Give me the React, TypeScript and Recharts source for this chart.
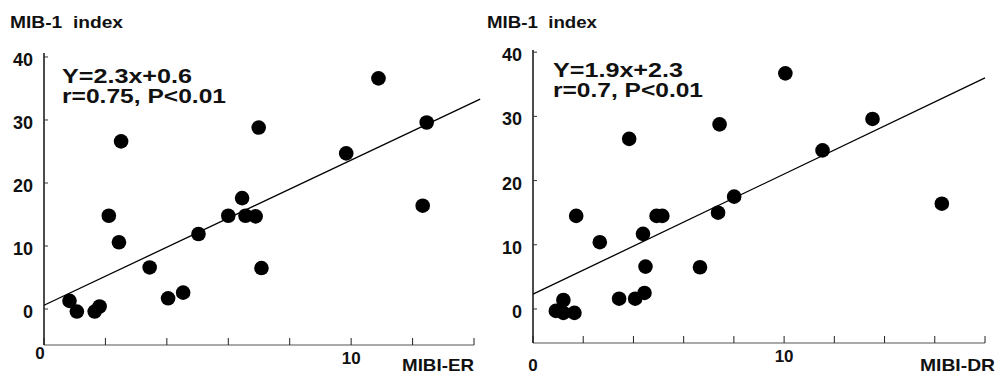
import React from 'react';
import { ScatterChart, Scatter, XAxis, YAxis, ReferenceLine } from 'recharts';

const FONT = '"Liberation Sans", Arial, Helvetica, sans-serif';

// MIBI-ER panel
const erX = [2.51, 6.99, 10.89, 12.46, 9.84, 2.11, 2.44, 0.83, 1.07, 1.65, 1.81, 3.44, 4.04, 4.53, 5.03, 6.0, 6.45, 6.56, 6.89, 7.08, 12.33];
const erY = [26.6, 28.8, 36.6, 29.6, 24.7, 14.8, 10.6, 1.3, -0.4, -0.4, 0.4, 6.6, 1.7, 2.6, 11.9, 14.8, 17.6, 14.8, 14.7, 6.5, 16.4];
const erFit = [{ x: 0, y: 0.6 }, { x: 14.2, y: 33.3 }];

// MIBI-DR panel
const drX = [3.83, 7.43, 10.05, 13.52, 11.53, 1.72, 2.66, 1.21, 0.91, 1.21, 1.65, 3.43, 4.07, 4.44, 4.38, 4.48, 4.92, 5.15, 6.65, 7.37, 8.01, 16.28];
const drY = [26.5, 28.75, 36.7, 29.6, 24.7, 14.5, 10.4, 1.4, -0.3, -0.6, -0.6, 1.6, 1.6, 2.5, 11.7, 6.6, 14.5, 14.5, 6.5, 15.0, 17.5, 16.4];
const drFit = [{ x: 0, y: 2.3 }, { x: 18, y: 36 }];

const yTicks = [0, 10, 20, 30, 40];
const erXTicks = [0, 2, 4, 6, 8, 10, 12, 14];
const drXTicks = [0, 2, 4, 6, 8, 10, 12, 14, 16, 18];
const xLabelValues = [0, 10];

const toPoints = (xs: number[], ys: number[]) => xs.map((x, i) => ({ x, y: ys[i] }));

const Dot = (p: any) => <circle cx={p.cx} cy={p.cy} r={7.3} fill="#000" />;

const makeXTick = (zeroDx: number, zeroDy: number) => (props: any) => {
  const { x, y, payload } = props;
  const v = payload.value;
  return (
    <g>
      <line x1={x} y1={y} x2={x} y2={y - 7} stroke="#222" strokeWidth={1} />
      {xLabelValues.includes(v) && (
        <text
          x={v === 0 ? x + zeroDx : x}
          y={v === 0 ? y + zeroDy : y + 19}
          textAnchor="middle"
          fontFamily={FONT}
          fontWeight="bold"
          fontSize={17}
          fill="#111"
        >
          {v}
        </text>
      )}
    </g>
  );
};

const YTick = (props: any) => {
  const { x, y, payload } = props;
  return (
    <g>
      <line x1={x} y1={y} x2={x + 4} y2={y} stroke="#333" strokeWidth={1} />
      <text x={x - 11} y={y + 9} textAnchor="end" fontFamily={FONT} fontWeight="bold" fontSize={18} fill="#111">
        {payload.value}
      </text>
    </g>
  );
};

interface PanelProps {
  points: { x: number; y: number }[];
  fit: { x: number; y: number }[];
  xTicks: number[];
  xMax: number;
  yDomain: [number, number];
  width: number;
  margin: { top: number; right: number; left: number; bottom: number };
  yWidth: number;
  xHeight: number;
  zeroDx: number;
  zeroDy: number;
}

const Panel: React.FC<PanelProps> = ({ points, fit, xTicks, xMax, yDomain, width, margin, yWidth, xHeight, zeroDx, zeroDy }) => (
  <ScatterChart width={width} height={375} margin={margin}>
    <XAxis
      type="number"
      dataKey="x"
      domain={[0, xMax]}
      ticks={xTicks}
      allowDataOverflow
      height={xHeight}
      tickSize={0}
      tickMargin={0}
      tickLine={false}
      axisLine={{ stroke: '#555', strokeWidth: 1.2 }}
      tick={makeXTick(zeroDx, zeroDy)}
      interval={0}
    />
    <YAxis
      type="number"
      dataKey="y"
      domain={yDomain}
      ticks={yTicks}
      allowDataOverflow
      width={yWidth}
      tickSize={0}
      tickMargin={0}
      tickLine={false}
      axisLine={{ stroke: '#111', strokeWidth: 1.5 }}
      tick={YTick}
      interval={0}
    />
    <ReferenceLine segment={fit} stroke="#000" strokeWidth={1.3} ifOverflow="visible" />
    <Scatter data={points} shape={Dot} isAnimationActive={false} />
  </ScatterChart>
);

const txt = { fontFamily: FONT, fontWeight: 'bold' as const, fill: '#111' };

export default function App() {
  return (
    <div style={{ position: 'absolute', left: 0, top: 0, width: 996, height: 375, background: '#fff', overflow: 'hidden' }}>
      <div style={{ position: 'absolute', left: 0, top: 0 }}>
        <Panel
          points={toPoints(erX, erY)}
          fit={erFit}
          xTicks={erXTicks}
          xMax={14}
          yDomain={[-5.71, 40.63]}
          width={500}
          margin={{ top: 53, right: 26, left: 4, bottom: 0 }}
          yWidth={40}
          xHeight={30}
          zeroDx={-4}
          zeroDy={14}
        />
      </div>
      <div style={{ position: 'absolute', left: 500, top: 0 }}>
        <Panel
          points={toPoints(drX, drY)}
          fit={drFit}
          xTicks={drXTicks}
          xMax={18}
          yDomain={[-5.3, 40.34]}
          width={496}
          margin={{ top: 50, right: 11, left: 3, bottom: 0 }}
          yWidth={30}
          xHeight={32}
          zeroDx={0}
          zeroDy={28}
        />
      </div>
      <svg width={996} height={375} style={{ position: 'absolute', left: 0, top: 0, pointerEvents: 'none', whiteSpace: 'pre' }}>
        <text x={10} y={28} fontSize={16} textLength={113} lengthAdjust="spacingAndGlyphs" xmlSpace="preserve" {...txt}>MIB-1  index</text>
        <text x={487} y={28} fontSize={16} textLength={110} lengthAdjust="spacingAndGlyphs" xmlSpace="preserve" {...txt}>MIB-1  index</text>
        <text x={62} y={83} fontSize={20} textLength={130} lengthAdjust="spacingAndGlyphs" {...txt}>Y=2.3x+0.6</text>
        <text x={62} y={103} fontSize={20} textLength={164} lengthAdjust="spacingAndGlyphs" {...txt}>r=0.75, P&lt;0.01</text>
        <text x={553} y={77} fontSize={20} textLength={130} lengthAdjust="spacingAndGlyphs" {...txt}>Y=1.9x+2.3</text>
        <text x={553} y={97} fontSize={20} textLength={150} lengthAdjust="spacingAndGlyphs" {...txt}>r=0.7, P&lt;0.01</text>
        <text x={474} y={371} fontSize={17} textLength={72} lengthAdjust="spacingAndGlyphs" textAnchor="end" {...txt}>MIBI-ER</text>
        <text x={995} y={371} fontSize={17} textLength={75} lengthAdjust="spacingAndGlyphs" textAnchor="end" {...txt}>MIBI-DR</text>
      </svg>
    </div>
  );
}
